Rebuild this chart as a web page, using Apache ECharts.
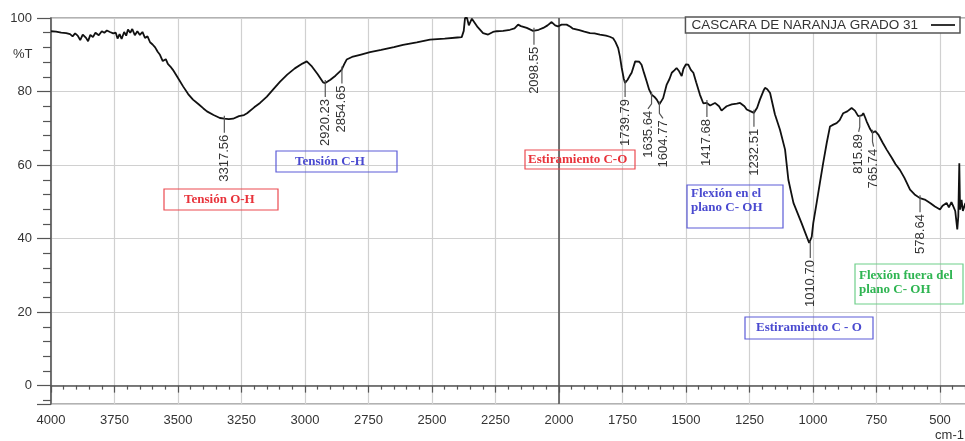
<!DOCTYPE html>
<html>
<head>
<meta charset="utf-8">
<script src="https://cdn.jsdelivr.net/npm/echarts@6/dist/echarts.min.js"></script>
<style>html,body{margin:0;padding:0;background:#fff}#c{width:965px;height:441px}</style>
</head>
<body>
<div id="c"></div>
<script>
// Wavenumber (cm-1) and transmittance (%T)
const wavenumber = [4000,3980,3960,3940,3925,3915,3905,3895,3885,3875,3862,3854,3845,3835,3825,3812,3800,3790,3780,3768,3755,3745,3738,3730,3722,3712,3704,3697,3688,3680,3670,3660,3650,3640,3630,3620,3610,3600,3590,3580,3571,3560,3548,3540,3530,3520,3500,3480,3460,3441,3420,3400,3386,3360,3335,3317.56,3300,3283,3260,3240,3228,3200,3177,3150,3126,3098,3070,3040,3010,2993,2975,2950,2929,2920.23,2900,2880,2856,2845,2836,2815,2783,2744,2700,2650,2614,2560,2508,2450,2400,2383,2375,2370,2362,2355,2350,2343,2337,2320,2299,2279,2260,2245,2220,2193,2175,2161,2150,2127,2102,2080,2062,2045,2029,2015,2004,1990,1970,1955,1945,1920,1900,1878,1860,1839,1815,1800,1787,1778,1767,1760,1753,1745,1739.79,1730,1722,1714,1700,1694,1684,1675,1665,1655,1645,1635,1625,1615,1604.77,1590,1576,1565,1556,1545,1537,1527,1517,1510,1500,1491,1481,1471,1460,1445,1432,1418,1405,1386,1370,1360,1350,1340,1320,1300,1287,1270,1261,1245,1232.51,1220,1209,1195,1189,1180,1169,1150,1130,1110,1097,1077,1060,1045,1030,1015,1010.7,1005,999,985,973,960,946,933,920,907,895,881,865,848,835,822,815.89,808,802,795,789,775,765.74,755,743,725,710,690,675,658,640,618,600,579,560,539,520,500,490,474,465,455,448,440,432,428,424,421,415,410,400];
const transmittance = [96.4,96.3,96.0,95.9,95.6,95.0,95.8,95.2,94.0,95.5,94.6,93.7,95.4,94.8,96.0,95.3,96.4,96.0,96.6,96.2,95.8,96.0,94.4,95.6,94.3,96.2,95.2,96.9,96.0,97.0,95.3,96.4,95.4,96.2,94.6,95.0,93.4,92.8,92.0,90.8,90.0,88.3,88.8,87.5,86.8,85.9,83.7,81.4,79.3,77.8,76.6,75.4,74.6,73.6,72.8,72.6,72.5,72.6,73.3,73.6,74.1,75.7,76.9,78.6,80.5,82.7,84.6,86.3,87.6,88.2,87.0,84.7,82.5,82.3,83.2,84.3,85.9,87.5,88.7,89.4,90.0,90.7,91.3,92.1,92.7,93.4,94.1,94.4,94.7,94.8,96.5,100,100,98,97.5,99.8,99.5,97.5,95.9,95.5,96.2,96.4,96.5,96.8,97.2,98.2,97.8,97.3,96.5,96.8,97.3,98.0,98.9,98.0,97.7,98.2,98.2,97.6,97.1,96.7,96.3,95.9,95.8,95.5,95.2,94.9,94.5,93.5,91.8,89.5,86.4,83.5,82.3,83.2,84.2,85.1,88.2,88.7,88.1,87.3,85.0,82.8,80.5,79.1,78.6,77.8,76.5,78.2,81.9,83.4,85.1,85.8,86.4,85.5,84.2,86.2,87.4,87.3,85.9,85.1,82.5,79.1,76.8,76.9,76.2,76.9,76.0,74.8,75.4,76.0,76.5,76.7,76.9,76.0,75.1,74.6,74.2,75.6,77.8,80.2,81.0,80.6,79.6,73.8,69.6,64.2,56.0,49.7,46.8,44.2,41.5,38.8,38.5,40.5,44.2,50.0,55.1,60.5,66.0,70.5,71.0,71.4,72.2,74.1,74.6,75.5,74.8,73.3,72.8,73.5,74.1,73.0,71.9,69.8,68.8,69.2,68.3,66.0,64.2,62.0,60.2,58.7,56.5,53.3,52.0,51.0,50.6,49.7,48.7,47.9,48.9,49.7,48.5,49.9,48.8,47.5,42.5,46,60.5,47.9,50.5,47.5,49.7];

// Marked peaks
const peakLabels = ['3317.56','2920.23','2854.65','2098.55','1739.79','1635.64','1604.77','1417.68','1232.51','1010.70','815.89','765.74','578.64'];
const peakWn = [3317.56,2920.23,2854.65,2098.55,1739.79,1635.64,1604.77,1417.68,1232.51,1010.70,815.89,765.74,578.64];
const peakT = [72.6,82.3,86.0,96.5,82.3,79.1,76.5,76.9,74.2,38.5,72.8,68.8,51.0];

const xTickInterval = 250;
const seriesName = 'CASCARA DE NARANJA GRADO 31';

const chart = echarts.init(document.getElementById('c'), null, {renderer:'canvas'});

const lineData = wavenumber.map((w,i)=>[w, transmittance[i]]);
const peakData = peakWn.map((w,i)=>[w, peakT[i], peakLabels[i]]);

const FONT = 'Liberation Sans, Arial, sans-serif';
function box(x,y,w,h,lines,color,border,tx,ty){
  return [
    {type:'rect', shape:{x:x,y:y,width:w,height:h}, style:{fill:'none', stroke:border, lineWidth:1.2}, z:50},
    {type:'text', x:tx, y:ty, style:{text:lines, fill:color, font:'bold 13px "Liberation Serif", "Times New Roman", serif', lineHeight:14, align:'left', verticalAlign:'top'}, z:51}
  ];
}
const RED='#e8333b', REDB='#ec4a50', BLUE='#4a4ad0', BLUEB='#5c5cd8', GREEN='#2fb552', GREENB='#6fcf8a';

const graphics = [].concat(
  box(164,189,114,21,'Tensión O-H',RED,REDB,184,193),
  box(276,151,121,21,'Tensión C-H',BLUE,BLUEB,295,155),
  box(525,150,110,19,'Estiramiento C-O',RED,REDB,528,153),
  box(687,185,96,43,'Flexión en el\nplano C- OH',BLUE,BLUEB,691,187),
  box(745,317,128,22,'Estiramiento C - O',BLUE,BLUEB,756,321),
  box(855,264,108,40,'Flexión fuera del\nplano C- OH',GREEN,GREENB,859,269),
  [
    {type:'text', left:13, top:48, style:{text:'%T', fill:'#333', font:'13px '+FONT}},
    {type:'text', right:1, top:429, style:{text:'cm-1', fill:'#333', font:'13px '+FONT}}
  ]
);

chart.setOption({
  animation:false,
  backgroundColor:'#fff',
  grid:{left:51, right:-38.5, top:18, bottom:37, outerBoundsMode:'none', containLabel:false, show:true, borderColor:'#999', borderWidth:1.5, backgroundColor:'transparent'},
  legend:{
    right:5, top:17, align:'right', orient:'horizontal',
    data:[{name:seriesName, icon:'rect'}],
    itemWidth:24, itemHeight:2, itemGap:0,
    itemStyle:{color:'#333'},
    borderColor:'#555', borderWidth:1.5, padding:[1,5,1,6], backgroundColor:'#fff',
    textStyle:{fontFamily:FONT, fontSize:13.5, color:'#333', padding:[0,8,0,0], lineHeight:13}
  },
  xAxis:{
    type:'value', inverse:true, min:250, max:4000, interval:xTickInterval,
    axisLine:{show:true, lineStyle:{color:'#555', width:1.5}},
    axisTick:{show:true, length:7, lineStyle:{color:'#555', width:1.2}},
    minorTick:{show:true, splitNumber:5, length:4, lineStyle:{color:'#555', width:1.2}},
    splitLine:{show:true, lineStyle:{color:'#d0d0d0', width:1.2}},
    axisLabel:{fontFamily:FONT, fontSize:13, color:'#333', margin:10, formatter:v=>String(v)}
  },
  yAxis:{
    type:'value', min:-5, max:100, splitNumber:5,
    axisLine:{show:true, lineStyle:{color:'#555', width:1.5}},
    axisTick:{show:true, length:14, lineStyle:{color:'#555', width:1.2}},
    minorTick:{show:true, splitNumber:5, length:8, lineStyle:{color:'#555', width:1.2}},
    splitLine:{show:true, lineStyle:{color:'#d0d0d0', width:1.2}},
    axisLabel:{fontFamily:FONT, fontSize:13, color:'#333', margin:19, formatter:v=> v<0 ? '' : String(v)}
  },
  series:[
    {
      name:seriesName, type:'line', data:lineData, symbol:'none', smooth:false,
      lineStyle:{color:'#111', width:1.8}, itemStyle:{color:'#111'}, z:10,
      markLine:{silent:true, symbol:'none', label:{show:false}, lineStyle:{color:'#555', width:1.6, type:'solid'}, data:[{xAxis:2000}]}
    },
    {
      name:'peaks', type:'custom', data:peakData, z:20,
      renderItem:function(params, api){
        const i = params.dataIndex;
        const p = api.coord([api.value(0), api.value(1)]);
        const xs = peakWn.map(w => api.coord([w, 0])[0]);
        const minGap = 15;
        let tx = xs[i];
        if (i > 0 && xs[i] - xs[i-1] < minGap) tx += (minGap - (xs[i] - xs[i-1])) / 2;
        if (i < xs.length - 1 && xs[i+1] - xs[i] < minGap) tx -= (minGap - (xs[i+1] - xs[i])) / 2;
        const lbl = peakLabels[i];
        return {type:'group', children:[
          {type:'polyline', shape:{points:[[p[0], p[1]-3],[p[0], p[1]+9],[tx, p[1]+14]]}, style:{stroke:'#555', lineWidth:1.2, fill:'none'}},
          {type:'text', x:tx, y:p[1]+16, rotation:Math.PI/2, style:{text:lbl, fill:'#333', font:'13px '+FONT, align:'right', verticalAlign:'middle'}}
        ]};
      }
    }
  ],
  graphic:graphics
});
</script>
</body>
</html>
